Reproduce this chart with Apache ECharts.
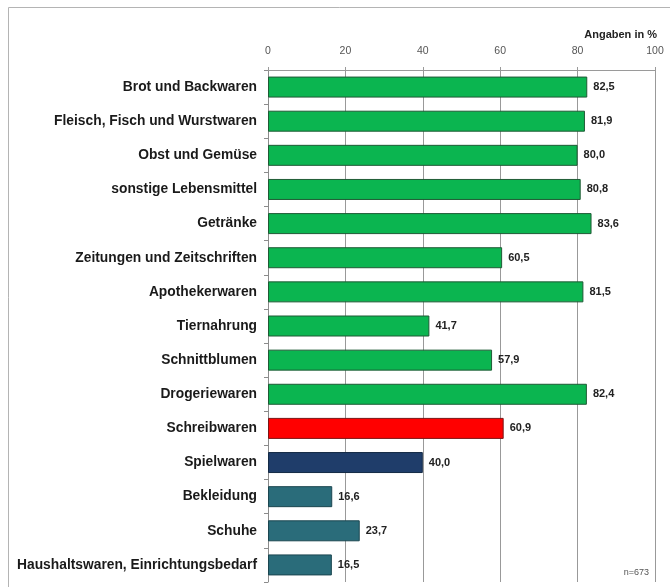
<!DOCTYPE html>
<html>
<head>
<meta charset="utf-8">
<script src="https://cdn.jsdelivr.net/npm/echarts@6/dist/echarts.min.js"></script>
<style>
  html, body { margin: 0; padding: 0; background: #fff; }
  #chart { width: 670px; height: 587px; }
</style>
</head>
<body>
<div id="chart"></div>
<script>
// Product groups, top to bottom
const categories = [
  'Brot und Backwaren',
  'Fleisch, Fisch und Wurstwaren',
  'Obst und Gemüse',
  'sonstige Lebensmittel',
  'Getränke',
  'Zeitungen und Zeitschriften',
  'Apothekerwaren',
  'Tiernahrung',
  'Schnittblumen',
  'Drogeriewaren',
  'Schreibwaren',
  'Spielwaren',
  'Bekleidung',
  'Schuhe',
  'Haushaltswaren, Einrichtungsbedarf'
];
// Share in percent
const values = [82.5, 81.9, 80.0, 80.8, 83.6, 60.5, 81.5, 41.7, 57.9, 82.4, 60.9, 40.0, 16.6, 23.7, 16.5];
// Colour group of each bar
const groups = ['g','g','g','g','g','g','g','g','g','g','r','n','t','t','t'];
const xTicks = [0, 20, 40, 60, 80, 100];

const palette = {
  g: { fill: '#0bb550', border: '#1f5a35' },
  r: { fill: '#ff0000', border: '#7a1515' },
  n: { fill: '#1f3d6a', border: '#142a45' },
  t: { fill: '#2a6c7a', border: '#1b4650' }
};

const FONT = 'Liberation Sans, Arial, sans-serif';

const chart = echarts.init(document.getElementById('chart'));
chart.setOption({
  backgroundColor: '#ffffff',
  animation: false,
  grid: { left: 268, right: 15, top: 70, bottom: 5, containLabel: false },
  xAxis: {
    type: 'value',
    position: 'top',
    min: xTicks[0],
    max: xTicks[xTicks.length - 1],
    interval: 20,
    axisLine: { show: true, lineStyle: { color: '#9a9a9a', width: 1 } },
    axisTick: { show: true, length: 3, lineStyle: { color: '#9a9a9a' } },
    axisLabel: { color: '#555', fontSize: 10.5, fontFamily: FONT, margin: 13 },
    splitLine: { show: true, lineStyle: { color: '#999999', width: 1 } }
  },
  yAxis: {
    type: 'category',
    inverse: true,
    data: categories,
    axisLine: { show: true, lineStyle: { color: '#8c8c8c', width: 1 } },
    axisTick: { show: true, length: 4, lineStyle: { color: '#8c8c8c' } },
    axisLabel: {
      color: '#1a1a1a', fontSize: 13.8, fontWeight: 'bold',
      fontFamily: FONT, margin: 11
    }
  },
  graphic: [
    {
      type: 'rect', silent: true,
      shape: { x: 8.5, y: 7.5, width: 700, height: 640 },
      style: { fill: 'none', stroke: '#b4b4b4', lineWidth: 1 }
    },
    {
      type: 'text', right: 13, top: 29,
      style: {
        text: 'Angaben in %', fill: '#222', fontSize: 11, fontWeight: 'bold',
        fontFamily: FONT
      }
    },
    {
      type: 'text', right: 21, top: 568,
      style: {
        text: 'n=673', fill: '#555', fontSize: 9,
        fontFamily: FONT
      }
    }
  ],
  series: [{
    type: 'bar',
    barWidth: 21,
    data: values.map((v, i) => ({
      value: v,
      itemStyle: {
        color: palette[groups[i]].fill,
        borderColor: palette[groups[i]].border,
        borderWidth: 1
      }
    })),
    label: {
      show: true,
      position: 'right',
      distance: 6,
      color: '#222',
      fontSize: 11,
      fontWeight: 'bold',
      fontFamily: FONT,
      formatter: p => p.value.toFixed(1).replace('.', ',')
    }
  }]
});
</script>
</body>
</html>
